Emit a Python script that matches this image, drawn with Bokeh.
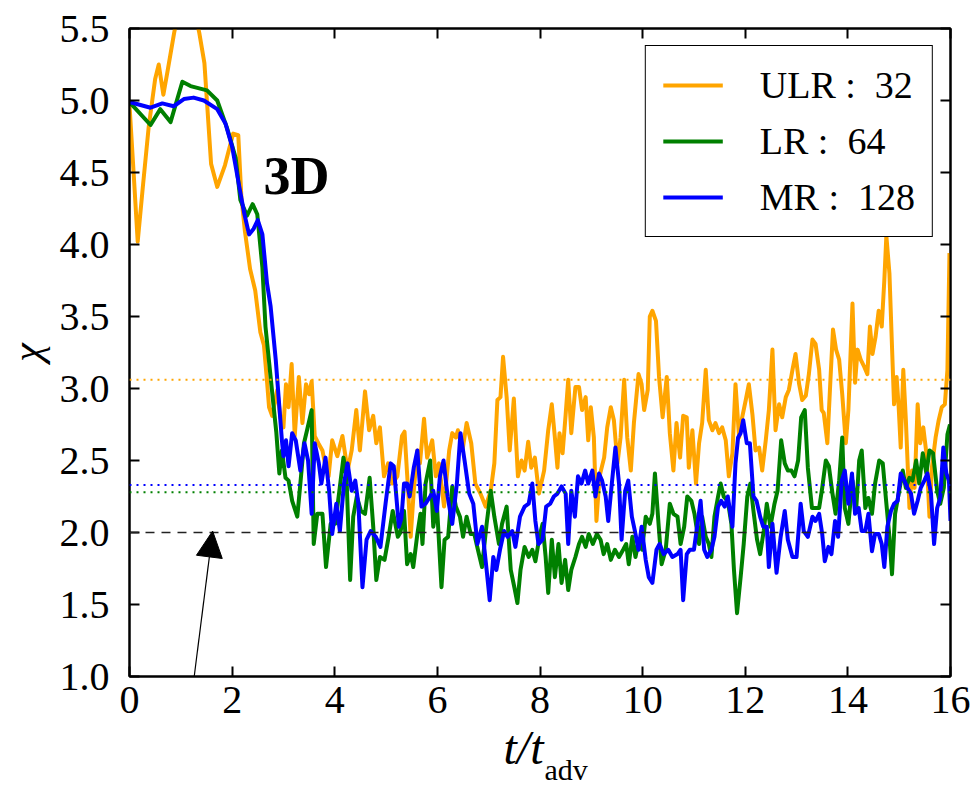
from bokeh.plotting import figure
from bokeh.models import (Range1d, FixedTicker, LinearAxis, Span, Label, Arrow, Title,
                          NormalHead, NumeralTickFormatter, ColumnDataSource)
from bokeh.embed import file_html
from bokeh.resources import INLINE

# ---------------- data ----------------
t_ulr = [0.0, 0.08, 0.16, 0.26, 0.375, 0.5, 0.57, 0.66, 0.74, 0.87, 1.0, 1.15, 1.28, 1.36, 1.46,
         1.59, 1.71, 1.86, 2.02, 2.12, 2.18, 2.25, 2.35, 2.45, 2.55, 2.62, 2.68, 2.72, 2.78, 2.88,
         2.94, 3.0, 3.05, 3.1, 3.16, 3.22, 3.3, 3.37, 3.44, 3.5, 3.55, 3.61, 3.68, 3.76, 3.82, 3.88,
         3.95, 4.05, 4.15, 4.25, 4.33, 4.42, 4.49, 4.59, 4.67, 4.75, 4.81, 4.88, 4.96, 5.04, 5.12,
         5.22, 5.31, 5.36, 5.43, 5.48, 5.54, 5.61, 5.66, 5.74, 5.8, 5.9, 5.97, 6.03, 6.13, 6.23,
         6.29, 6.36, 6.4, 6.49, 6.57, 6.66, 6.74, 6.84, 6.94, 7.04, 7.11, 7.17, 7.23, 7.28, 7.35,
         7.41, 7.49, 7.57, 7.64, 7.7, 7.77, 7.83, 7.9, 7.98, 8.08, 8.16, 8.23, 8.29, 8.34, 8.38,
         8.44, 8.5, 8.55, 8.61, 8.69, 8.76, 8.82, 8.89, 8.94, 8.99, 9.05, 9.1, 9.16, 9.25, 9.31,
         9.38, 9.44, 9.51, 9.57, 9.64, 9.7, 9.77, 9.83, 9.92, 9.98, 10.03, 10.1, 10.14, 10.19,
         10.26, 10.32, 10.39, 10.47, 10.53, 10.6, 10.66, 10.73, 10.79, 10.86, 10.9, 10.97, 11.04,
         11.1, 11.16, 11.23, 11.29, 11.36, 11.42, 11.49, 11.55, 11.62, 11.68, 11.75, 11.81, 11.88,
         11.94, 12.01, 12.07, 12.14, 12.2, 12.27, 12.33, 12.4, 12.46, 12.53, 12.59, 12.66, 12.72,
         12.79, 12.85, 12.92, 12.98, 13.05, 13.11, 13.18, 13.24, 13.31, 13.37, 13.44, 13.49,
         13.53, 13.6, 13.66, 13.71, 13.77, 13.83, 13.89, 13.96, 14.01, 14.09, 14.14, 14.19,
         14.25, 14.32, 14.38, 14.43, 14.48, 14.54, 14.6, 14.66, 14.71, 14.75, 14.81, 14.86, 14.9,
         14.95, 14.99, 15.03, 15.08, 15.13, 15.2, 15.25, 15.3, 15.36, 15.41, 15.47, 15.53, 15.59,
         15.64, 15.71, 15.77, 15.83, 15.89, 15.94, 15.98]
chi_ulr = [4.97, 4.5, 4.02, 4.4, 4.82, 5.15, 5.25, 5.04, 5.2, 5.47, 5.7, 5.78, 5.6, 5.47, 5.26,
           4.56, 4.4, 4.55, 4.77, 4.76, 4.33, 4.09, 3.83, 3.68, 3.39, 3.3, 3.05, 2.87, 2.81, 2.99,
           2.8, 2.73, 3.03, 2.87, 3.17, 2.67, 3.08, 2.76, 3.03, 2.96, 3.05, 2.67, 2.62, 2.57, 2.46,
           2.39, 2.64, 2.53, 2.67, 2.43, 2.57, 2.85, 2.57, 2.98, 2.71, 2.81, 2.62, 2.73, 2.39, 2.48,
           2.34, 2.39, 2.67, 2.7, 2.29, 1.97, 2.29, 2.57, 2.48, 2.79, 2.52, 2.64, 2.39, 2.48, 2.18,
           2.57, 2.69, 2.66, 2.71, 2.57, 2.76, 2.62, 2.34, 2.27, 2.18, 2.29, 2.48, 2.92, 2.94, 3.22,
           2.94, 2.57, 2.93, 2.39, 2.5, 2.43, 2.63, 2.45, 2.52, 2.27, 2.43, 2.71, 2.89, 2.66, 2.45,
           2.69, 2.55, 2.82, 3.06, 2.69, 3.01, 3.01, 2.85, 2.94, 2.64, 2.87, 2.66, 2.08, 2.39, 2.52,
           2.73, 2.87, 2.78, 2.48, 2.66, 3.06, 2.66, 2.43, 2.76, 3.1, 3.03, 2.85, 2.99, 3.5, 3.54,
           3.47, 3.08, 2.8, 3.08, 2.69, 2.43, 2.76, 2.52, 2.81, 2.8, 2.45, 2.71, 2.34, 2.62, 2.76,
           3.13, 2.78, 2.71, 2.76, 2.69, 2.73, 2.64, 2.39, 2.55, 3.03, 2.66, 2.8, 2.92, 3.03, 2.82,
           2.57, 2.59, 2.43, 2.64, 2.85, 3.27, 2.71, 2.89, 2.8, 2.94, 2.99, 3.13, 3.24, 3.03, 2.92,
           2.95, 3.1, 3.34, 3.31, 3.13, 2.85, 2.83, 2.62, 3.06, 3.41, 3.27, 3.2, 2.96, 2.62, 2.85,
           3.59, 3.04, 3.27, 3.2, 3.15, 3.1, 3.43, 3.24, 3.36, 3.54, 3.43, 3.75, 4.06, 3.8, 3.29,
           2.89, 3.08, 2.87, 2.59, 3.13, 2.78, 2.17, 2.43, 2.31, 2.89, 2.62, 2.73, 2.55, 2.11,
           2.46, 2.66, 2.78, 2.87, 2.89, 3.13, 3.94]

t_lr = [0.0, 0.05, 0.41, 0.6, 0.8, 1.03, 1.19, 1.51, 1.71, 1.9, 2.07, 2.16, 2.29, 2.4, 2.49, 2.59,
        2.65, 2.75, 2.81, 2.86, 2.92, 2.97, 3.04, 3.1, 3.17, 3.27, 3.33, 3.4, 3.46, 3.55, 3.59,
        3.66, 3.76, 3.83, 3.92, 4.01, 4.09, 4.17, 4.23, 4.3, 4.36, 4.43, 4.51, 4.59, 4.68, 4.75,
        4.81, 4.88, 4.97, 5.05, 5.13, 5.23, 5.28, 5.35, 5.41, 5.48, 5.53, 5.61, 5.67, 5.71, 5.77,
        5.86, 5.92, 5.99, 6.08, 6.14, 6.21, 6.29, 6.36, 6.44, 6.5, 6.57, 6.65, 6.72, 6.79, 6.87,
        6.96, 7.04, 7.11, 7.2, 7.26, 7.35, 7.43, 7.5, 7.56, 7.62, 7.7, 7.78, 7.85, 7.91, 7.99,
        8.05, 8.11, 8.16, 8.23, 8.29, 8.36, 8.42, 8.49, 8.55, 8.61, 8.69, 8.76, 8.82, 8.89, 8.95,
        9.03, 9.11, 9.18, 9.24, 9.31, 9.38, 9.46, 9.54, 9.62, 9.68, 9.73, 9.8, 9.86, 9.93, 9.99,
        10.06, 10.14, 10.19, 10.24, 10.31, 10.37, 10.45, 10.53, 10.6, 10.68, 10.74, 10.81, 10.87,
        10.95, 11.01, 11.1, 11.16, 11.23, 11.29, 11.34, 11.4, 11.47, 11.52, 11.58, 11.66, 11.73,
        11.78, 11.84, 11.91, 11.97, 12.04, 12.1, 12.16, 12.23, 12.29, 12.36, 12.42, 12.49, 12.57,
        12.63, 12.7, 12.77, 12.83, 12.9, 12.96, 13.03, 13.09, 13.16, 13.22, 13.3, 13.37, 13.44,
        13.5, 13.57, 13.63, 13.7, 13.76, 13.83, 13.89, 13.94, 14.01, 14.09, 14.16, 14.22, 14.27,
        14.34, 14.4, 14.47, 14.53, 14.61, 14.68, 14.74, 14.81, 14.86, 14.92, 14.99, 15.07, 15.13,
        15.2, 15.26, 15.33, 15.39, 15.46, 15.53, 15.59, 15.66, 15.74, 15.8, 15.87, 15.94, 15.99]
chi_lr = [4.98, 4.97, 4.83, 4.94, 4.85, 5.13, 5.1, 5.07, 5.0, 4.81, 4.6, 4.31, 4.2, 4.28, 4.21, 3.84,
          3.43, 3.08, 2.87, 2.7, 2.41, 2.57, 2.38, 2.36, 2.22, 2.11, 2.34, 2.62, 2.71, 2.85, 1.92,
          2.13, 2.13, 1.76, 2.06, 2.06, 2.29, 2.52, 2.38, 1.67, 2.11, 2.25, 2.15, 2.13, 2.38, 2.04,
          1.67, 1.83, 1.81, 1.97, 2.15, 1.97, 2.0, 2.15, 1.78, 1.85, 1.76, 1.99, 2.13, 1.92, 2.34,
          2.5, 2.04, 2.2, 1.62, 1.95, 1.97, 2.32, 2.18, 2.11, 1.97, 2.11, 1.99, 1.99, 1.88, 1.76,
          2.06, 2.29, 2.11, 1.92, 2.06, 2.18, 1.74, 1.62, 1.51, 1.74, 1.9, 1.83, 1.88, 1.8, 1.97,
          2.06, 1.83, 1.58, 1.95, 1.69, 1.92, 1.65, 1.81, 1.6, 1.74, 1.83, 1.92, 1.97, 1.9, 1.99,
          1.92, 1.99, 1.95, 1.85, 1.92, 1.81, 1.88, 1.83, 1.88, 1.92, 1.78, 1.97, 1.83, 1.95, 1.88,
          2.11, 2.06, 2.13, 2.41, 2.06, 1.78, 1.88, 2.2, 2.13, 2.11, 1.92, 2.04, 2.25,
          2.22, 2.13, 1.92, 2.11, 1.97, 1.92, 1.83, 2.11, 2.25, 2.34, 2.25, 2.22, 2.06,
          1.74, 1.44, 1.69, 1.92, 2.25, 2.34, 2.15, 1.95, 1.85, 2.01, 2.2, 2.04, 2.2,
          2.29, 2.64, 2.48, 2.43, 2.43, 2.39, 2.5, 2.8, 2.85, 2.45, 2.17, 2.17, 2.17,
          2.31, 2.5, 2.46, 2.27, 2.13, 2.36, 2.66, 2.17, 2.06, 2.36, 2.15, 2.5, 2.57,
          2.17, 2.24, 2.13, 2.34, 2.5, 2.48, 2.24, 1.97, 1.71, 2.13, 2.27, 2.43, 2.31,
          2.38, 2.36, 2.5, 2.34, 2.55, 2.41, 2.57, 2.55, 2.29, 2.2, 2.31, 2.68, 2.75]

t_mr = [0.0, 0.41, 0.64, 0.86, 1.06, 1.25, 1.45, 1.71, 1.87, 2.0, 2.13, 2.24, 2.33, 2.42, 2.5, 2.59,
        2.68, 2.75, 2.85, 2.91, 2.97, 3.0, 3.05, 3.1, 3.17, 3.24, 3.33, 3.41, 3.48, 3.55, 3.61,
        3.69, 3.74, 3.82, 3.89, 3.95, 4.03, 4.1, 4.18, 4.25, 4.33, 4.4, 4.46, 4.54, 4.62, 4.7,
        4.8, 4.89, 4.99, 5.09, 5.15, 5.25, 5.3, 5.35, 5.41, 5.46, 5.54, 5.61, 5.69, 5.77, 5.86,
        5.92, 5.99, 6.05, 6.12, 6.2, 6.29, 6.38, 6.45, 6.53, 6.62, 6.7, 6.78, 6.87, 6.96, 7.02,
        7.09, 7.15, 7.22, 7.3, 7.37, 7.46, 7.52, 7.61, 7.7, 7.78, 7.85, 7.91, 7.97, 8.05, 8.12,
        8.2, 8.27, 8.34, 8.42, 8.5, 8.55, 8.61, 8.68, 8.74, 8.81, 8.88, 8.94, 9.02, 9.08, 9.15,
        9.21, 9.28, 9.33, 9.4, 9.47, 9.54, 9.59, 9.66, 9.72, 9.79, 9.85, 9.92, 9.98, 10.06,
        10.12, 10.19, 10.27, 10.33, 10.41, 10.5, 10.58, 10.68, 10.74, 10.79, 10.86, 10.92, 11.0,
        11.07, 11.13, 11.2, 11.26, 11.34, 11.4, 11.47, 11.53, 11.6, 11.66, 11.75, 11.81, 11.86,
        11.91, 11.96, 12.03, 12.09, 12.16, 12.22, 12.29, 12.35, 12.42, 12.46, 12.53, 12.61,
        12.69, 12.77, 12.83, 12.92, 13.0, 13.08, 13.14, 13.22, 13.31, 13.37, 13.44, 13.5, 13.55,
        13.62, 13.68, 13.75, 13.81, 13.88, 13.94, 14.01, 14.08, 14.14, 14.21, 14.27, 14.34,
        14.4, 14.47, 14.53, 14.6, 14.66, 14.71, 14.77, 14.84, 14.9, 14.97, 15.03, 15.1, 15.16,
        15.23, 15.29, 15.36, 15.42, 15.49, 15.55, 15.62, 15.68, 15.74, 15.8, 15.86, 15.92, 15.97,
        16.0]
chi_mr = [4.99, 4.95, 4.98, 4.96, 5.01, 5.02, 5.0, 4.94, 4.84, 4.68, 4.42, 4.21, 4.07, 4.11, 4.17,
          4.07, 3.73, 3.57, 3.2, 2.92, 2.64, 2.53, 2.64, 2.46, 2.69, 2.64, 2.43, 2.62, 2.5, 2.13,
          2.62, 2.48, 2.34, 2.52, 2.29, 1.99, 2.2, 2.01, 2.34, 2.48, 2.29, 2.36, 2.2, 1.62, 1.95,
          2.01, 1.97, 1.9, 2.2, 2.48, 2.46, 2.04, 2.1, 2.34, 2.34, 2.25, 2.45, 2.57, 2.18, 2.2,
          2.25, 2.29, 2.15, 2.39, 2.5, 2.25, 2.06, 2.34, 2.69, 2.5, 2.27, 2.2, 1.92, 2.04, 1.74,
          1.53, 1.83, 1.74, 1.88, 2.01, 1.97, 2.01, 1.9, 2.11, 2.18, 2.2, 2.34, 2.08, 1.92, 1.95,
          2.18, 2.2, 2.25, 2.27, 2.32, 2.27, 1.92, 2.29, 2.11, 2.39, 2.34, 2.43, 2.34, 2.43, 2.25,
          2.41, 2.36, 2.25, 2.08, 2.34, 2.59, 2.34, 1.95, 2.29, 2.36, 2.11, 2.01, 1.88, 2.04, 1.81,
          1.69, 1.65, 1.88, 1.92, 1.85, 1.88, 1.83, 1.85, 1.88, 1.53, 1.85, 1.88, 1.88,
          2.06, 2.22, 1.88, 1.83, 1.88, 1.97, 2.18, 2.22, 2.18, 2.25, 2.04, 2.48, 2.66,
          2.69, 2.78, 2.62, 2.62, 2.25, 2.22, 2.11, 2.04, 2.04, 1.76, 2.06, 1.72,
          1.97, 2.15, 1.95, 1.83, 1.83, 2.2, 2.01, 1.97, 2.11, 2.08, 2.13, 1.99, 1.8,
          1.9, 1.85, 2.08, 1.97, 2.36, 2.43, 2.2, 2.41, 2.13, 2.17, 2.01, 2.01,
          2.13, 1.87, 1.99, 1.99, 1.92, 1.76, 2.04, 2.15, 2.2, 2.22, 2.41, 2.36, 2.31,
          2.27, 2.13, 2.22, 2.31, 2.36, 2.41, 2.27, 1.92, 2.17, 2.24, 2.59, 2.41, 2.36,
          2.08]

series_names = ["ULR :\u00a0\u00a032", "LR :\u00a0\u00a064", "MR :\u00a0\u00a0128"]
series_colors = ["#FFA500", "#008000", "#0000FF"]
mean_chi = [3.06, 2.28, 2.33]          # dotted time averages (ULR, LR, MR)
reference_chi = 2.0                     # dashed reference level
x_ticks = [0, 2, 4, 6, 8, 10, 12, 14, 16]
y_ticks = [1.0, 1.5, 2.0, 2.5, 3.0, 3.5, 4.0, 4.5, 5.0, 5.5]

SERIF = "Liberation Serif"

# ---------------- figure ----------------
p = figure(width=976, height=787, output_backend="svg", toolbar_location=None,
           x_range=Range1d(0, 16), y_range=Range1d(1.0, 5.5),
           min_border_left=129, min_border_right=26, min_border_top=28, min_border_bottom=111)
p.background_fill_color = "white"
p.border_fill_color = "white"
p.outline_line_color = "black"
p.outline_line_width = 2
p.xgrid.visible = False
p.ygrid.visible = False

xt = FixedTicker(ticks=x_ticks)
yt = FixedTicker(ticks=y_ticks)

def style_axis(ax, show_labels):
    ax.major_tick_in = 10
    ax.major_tick_out = 0
    ax.minor_tick_line_color = None
    ax.major_tick_line_color = "black"
    ax.major_tick_line_width = 2
    ax.axis_line_color = "black"
    ax.axis_line_width = 2
    ax.major_label_text_font = SERIF
    ax.major_label_text_font_size = "40px" if show_labels else "0px"
    ax.major_label_text_color = "black" if show_labels else None

p.xaxis.ticker = xt
p.yaxis.ticker = yt
p.yaxis.formatter = NumeralTickFormatter(format="0.0")
for ax in p.xaxis + p.yaxis:
    style_axis(ax, True)
p.xaxis.major_label_standoff = 10
p.yaxis.major_label_standoff = 20

p.yaxis.axis_label = "χ"
p.yaxis.axis_label_text_font = SERIF
p.yaxis.axis_label_text_font_style = "italic"
p.yaxis.axis_label_text_font_size = "42px"
p.yaxis.axis_label_text_color = "black"
p.yaxis.axis_label_standoff = 7

top_ax = LinearAxis(ticker=xt)
right_ax = LinearAxis(ticker=yt)
for ax in (top_ax, right_ax):
    style_axis(ax, False)
    ax.major_label_standoff = 0
p.add_layout(top_ax, "above")
p.add_layout(right_ax, "right")

# x-axis label  t/t_adv  (two titles below the axis so that nothing is clipped)
xlabel_main = Title(text="t/t", text_font=SERIF, text_font_style="italic",
                    text_font_size="48px", text_color="black", align="left", offset=374,
                    vertical_align="bottom", standoff=6)
xlabel_sub = Title(text="adv", text_font=SERIF, text_font_style="normal",
                   text_font_size="30px", text_color="black", align="left", offset=415,
                   vertical_align="top", standoff=-48)
p.add_layout(xlabel_main, "below")
p.add_layout(xlabel_sub, "below")

# reference and mean levels
p.add_layout(Span(location=reference_chi, dimension="width", line_color="#222222",
                  line_width=1.5, line_dash="9 7"))
for m, c in zip(mean_chi, series_colors):
    p.add_layout(Span(location=m, dimension="width", line_color=c,
                      line_width=2, line_dash="2 5"))

# curves
for tt, cc, name, col in zip([t_ulr, t_lr, t_mr], [chi_ulr, chi_lr, chi_mr],
                             series_names, series_colors):
    src = ColumnDataSource(dict(t=tt, chi=cc))
    p.line("t", "chi", source=src, line_color=col, line_width=4, legend_label=name,
           line_join="round")

leg = p.legend[0]
leg.location = "top_right"
leg.margin = 17
leg.padding = 17
leg.spacing = 12
leg.glyph_width = 60
leg.glyph_height = 40
leg.label_standoff = 37
leg.label_text_font = SERIF
leg.label_text_font_size = "38px"
leg.label_text_color = "black"
leg.label_height = 40
leg.border_line_color = "black"
leg.border_line_width = 1.5
leg.border_line_alpha = 1.0
leg.background_fill_alpha = 1.0

# annotations
p.add_layout(Label(x=2.61, y=4.27, text="3D", text_font=SERIF, text_font_style="bold",
                   text_font_size="54px", text_color="black"))
p.add_layout(Arrow(x_start=0.955, y_start=0.14, x_end=1.62, y_end=2.01, line_width=1.2,
                   line_color="black",
                   end=NormalHead(size=26, fill_color="black", line_color="black")))

open("out.html", "w").write(file_html(p, INLINE))
